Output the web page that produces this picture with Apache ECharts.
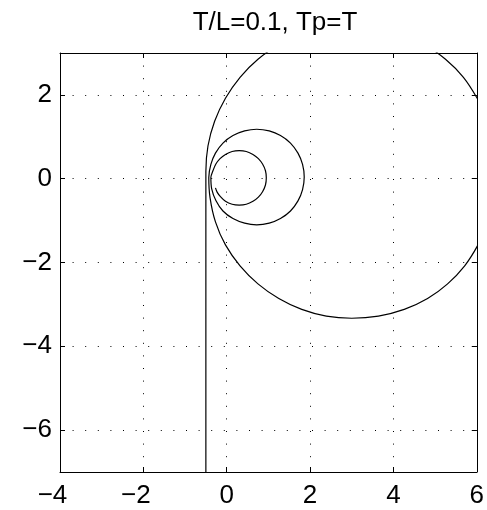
<!DOCTYPE html>
<html>
<head>
<meta charset="utf-8">
<script src="https://cdn.jsdelivr.net/npm/echarts@6/dist/echarts.min.js"></script>
<style>
  html, body { margin: 0; padding: 0; background: #fff; }
  #chart { width: 487px; height: 510px; }
</style>
</head>
<body>
<div id="chart"></div>
<script>
// Nyquist curve: real part (re) and imaginary part (im), ordered by increasing frequency.
// Low-frequency asymptote, then the large loop
const re = [
  -0.50, -0.50, -0.50, -0.50, -0.50, -0.50, -0.50,
  -0.45, -0.29, -0.03, 0.32, 0.75, 1.25, 1.80, 2.39, 3.00, 3.61, 4.20, 4.75, 5.25, 5.68, 6.01, 6.29, 6.45,
  6.50, 6.45, 6.29, 6.03, 5.71, 5.30, 4.82, 4.26, 3.64, 3.00, 2.39, 1.80, 1.25, 0.75, 0.32, -0.03, -0.27, -0.40,
  // second loop
  -0.43, -0.38, -0.27, -0.09, 0.15, 0.43, 0.72, 1.02, 1.29, 1.53, 1.71, 1.82, 1.86, 1.82, 1.71, 1.53, 1.29,
  1.02, 0.72, 0.43, 0.15, -0.09, -0.26, -0.36, -0.38,
  // third loop, ending inside
  -0.33, -0.26, -0.16, -0.03, 0.13, 0.30, 0.47, 0.63, 0.76, 0.86, 0.93, 0.95, 0.93, 0.86, 0.76, 0.63, 0.47,
  0.30, 0.13, -0.03, -0.15, -0.23, -0.27
];
const im = [
  -8.00, -5.00, -3.00, -1.60, -0.90, -0.40, 0.17,
  0.78, 1.37, 1.92, 2.42, 2.85, 3.20, 3.46, 3.62, 3.67, 3.62, 3.46, 3.20, 2.85, 2.42, 1.92, 1.37, 0.78,
  0.17, -0.44, -1.03, -1.58, -2.08, -2.51, -2.86, -3.12, -3.28, -3.33, -3.28, -3.12, -2.86, -2.51, -2.08, -1.58, -1.03, -0.45,
  0.03, 0.34, 0.61, 0.85, 1.03, 1.14, 1.18, 1.14, 1.03, 0.85, 0.61, 0.34, 0.04, -0.26, -0.53, -0.77, -0.95,
  -1.06, -1.10, -1.06, -0.95, -0.77, -0.52, -0.24, 0.03,
  0.19, 0.35, 0.48, 0.58, 0.65, 0.67, 0.65, 0.58, 0.48, 0.35, 0.19, 0.02, -0.15, -0.31, -0.44, -0.54, -0.61,
  -0.63, -0.61, -0.54, -0.43, -0.32, -0.22
];

// axis ranges and tick spacing
const xRange = [-4, 6];
const yRange = [-7, 3];
const tickStep = 2;
const titleText = 'T/L=0.1, Tp=T';

const points = re.map((x, i) => [x, im[i]]);

const FONT = 'Liberation Sans, Arial, Helvetica, sans-serif';
const FS = 26;
const MINUS = '\u2212';

// x labels: the digits sit on the tick, the minus sign hangs to the left
const xLabel = v => (v < 0 ? MINUS + Math.abs(v) + '{pad|\u00a0}' : String(v));
const yLabel = v => (v % tickStep === 0 ? (v < 0 ? MINUS + Math.abs(v) : String(v)) : '');

const boxAxis = {
  axisLine: { show: true, onZero: false, lineStyle: { color: '#000', width: 1 } },
  axisTick: { show: true, inside: true, length: 5, lineStyle: { color: '#000', width: 1 } }
};
const dotted = { show: true, lineStyle: { color: '#000', width: 1, type: [1, 11.6] } };

const chart = echarts.init(document.getElementById('chart'), null, { renderer: 'canvas' });
chart.setOption({
  backgroundColor: '#fff',
  animation: false,
  title: {
    text: titleText,
    left: 270,
    textAlign: 'center',
    top: 5,
    textStyle: { fontFamily: FONT, fontSize: FS, fontWeight: 'normal', color: '#000' }
  },
  grid: { left: 60, right: 7, top: 53, bottom: 38, containLabel: false },
  xAxis: [
    Object.assign({
      type: 'value', position: 'bottom',
      min: xRange[0], max: xRange[1], interval: tickStep,
      axisLabel: {
        color: '#000', fontFamily: FONT, fontSize: FS, margin: 11, formatter: xLabel,
        rich: { pad: { width: 15, fontSize: FS, fontFamily: FONT } }
      },
      splitLine: dotted
    }, boxAxis),
    Object.assign({
      type: 'value', position: 'top',
      min: xRange[0], max: xRange[1], interval: tickStep,
      axisLabel: { show: false }, splitLine: { show: false }
    }, boxAxis)
  ],
  yAxis: [
    Object.assign({
      type: 'value', position: 'left',
      min: yRange[0], max: yRange[1], minInterval: tickStep, maxInterval: tickStep, splitNumber: 5,
      axisLabel: {
        color: '#000', fontFamily: FONT, fontSize: FS, margin: 8,
        showMinLabel: false, showMaxLabel: false, formatter: yLabel
      },
      splitLine: dotted
    }, boxAxis),
    Object.assign({
      type: 'value', position: 'right',
      min: yRange[0], max: yRange[1], minInterval: tickStep, maxInterval: tickStep, splitNumber: 5,
      axisLabel: { show: false }, splitLine: { show: false }
    }, boxAxis)
  ],
  series: [{
    type: 'line',
    data: points,
    xAxisIndex: 0,
    yAxisIndex: 0,
    smooth: 0.3,
    showSymbol: false,
    clip: true,
    lineStyle: { color: '#000', width: 1.2 }
  }]
});
</script>
</body>
</html>
